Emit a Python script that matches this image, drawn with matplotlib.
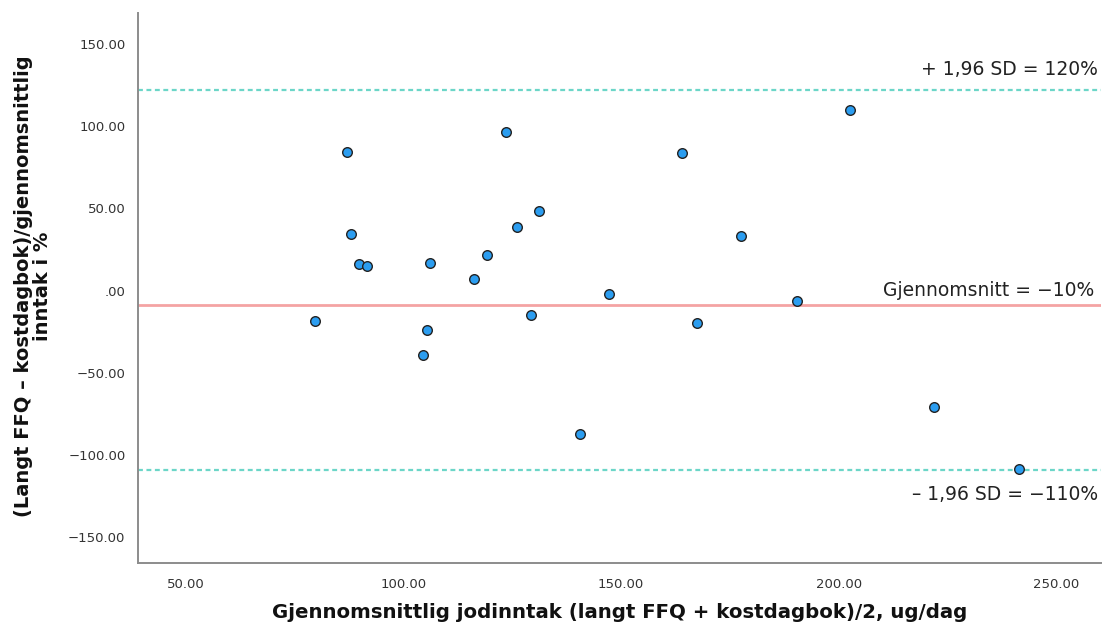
import matplotlib.pyplot as plt
import numpy as np

# Bland-Altman data
mean_intake = [87.1, 123.6, 131.1, 126.1, 87.9, 89.7, 91.6, 106.1, 119.2, 116.1,
               79.7, 105.3, 104.6, 129.3, 163.9, 177.5, 147.2, 167.5, 140.5, 190.5,
               202.7, 222.0, 241.4]
diff_pct = [84.0, 96.2, 48.2, 38.9, 34.2, 16.4, 14.8, 17.0, 21.9, 7.1,
            -18.4, -23.7, -39.3, -14.8, 83.8, 33.4, -2.0, -20.0, -87.1, -6.5,
            109.8, -70.7, -108.1]

mean_line = -8.5
upper_loa = 122.1
lower_loa = -108.9

x_ticks = [50, 100, 150, 200, 250]
y_ticks = [-150, -100, -50, 0, 50, 100, 150]

label_upper = "+ 1,96 SD = 120%"
label_mean = "Gjennomsnitt = \u221210%"
label_lower = "\u2013 1,96 SD = \u2212110%"


def tick_fmt(v):
    s = f"{v:.2f}"
    return s.replace("0.00", ".00") if v == 0 else s.replace("-", "\u2212")


def main():
    fig = plt.figure(figsize=(11.02, 6.28), dpi=100)
    ax = fig.add_axes([0.1252, 0.1035, 0.8740, 0.8755])

    ax.axhline(upper_loa, color="#6cd6c8", lw=1.6, ls=(0, (2.2, 1.6)), zorder=1)
    ax.axhline(lower_loa, color="#6cd6c8", lw=1.6, ls=(0, (2.2, 1.6)), zorder=1)
    ax.axhline(mean_line, color="#f4a3a3", lw=2.0, zorder=1)

    ax.scatter(mean_intake, diff_pct, s=48, color="#2b9df0",
               edgecolor="#222222", linewidth=1.0, zorder=3)

    ax.set_xlim(39, 260.3)
    ax.set_ylim(-165.5, 168.5)
    ax.set_xticks(x_ticks)
    ax.set_yticks(y_ticks)
    ax.set_xticklabels([f"{v:.2f}" for v in x_ticks])
    ax.set_yticklabels([tick_fmt(v) for v in y_ticks])
    ax.tick_params(length=0, labelsize=9.5, labelcolor="#333333")
    ax.tick_params(axis="x", pad=11)
    ax.tick_params(axis="y", pad=9)

    for side in ("top", "right"):
        ax.spines[side].set_visible(False)
    for side in ("left", "bottom"):
        ax.spines[side].set_color("#8c8c8c")
        ax.spines[side].set_linewidth(1.4)

    tr = ax.get_yaxis_transform()
    ax.text(0.997, upper_loa + 12, label_upper, transform=tr,
            ha="right", va="center", fontsize=13.5, color="#222222")
    ax.text(0.993, mean_line + 8.5, label_mean, transform=tr,
            ha="right", va="center", fontsize=13.5, color="#222222")
    ax.text(0.997, lower_loa - 15, label_lower, transform=tr,
            ha="right", va="center", fontsize=13.5, color="#222222")

    fig.text(0.5626, 0.025, "Gjennomsnittlig jodinntak (langt FFQ + kostdagbok)/2, ug/dag",
             ha="center", va="center", fontsize=14.2, fontweight="bold", color="#111111")
    fig.text(0.030, 0.544, "(Langt FFQ \u2013 kostdagbok)/gjennomsnittlig\ninntak i %",
             ha="center", va="center", rotation=90, fontsize=14, fontweight="bold",
             color="#111111", linespacing=0.95)

    fig.savefig("out.png", dpi=100)


if __name__ == "__main__":
    main()
